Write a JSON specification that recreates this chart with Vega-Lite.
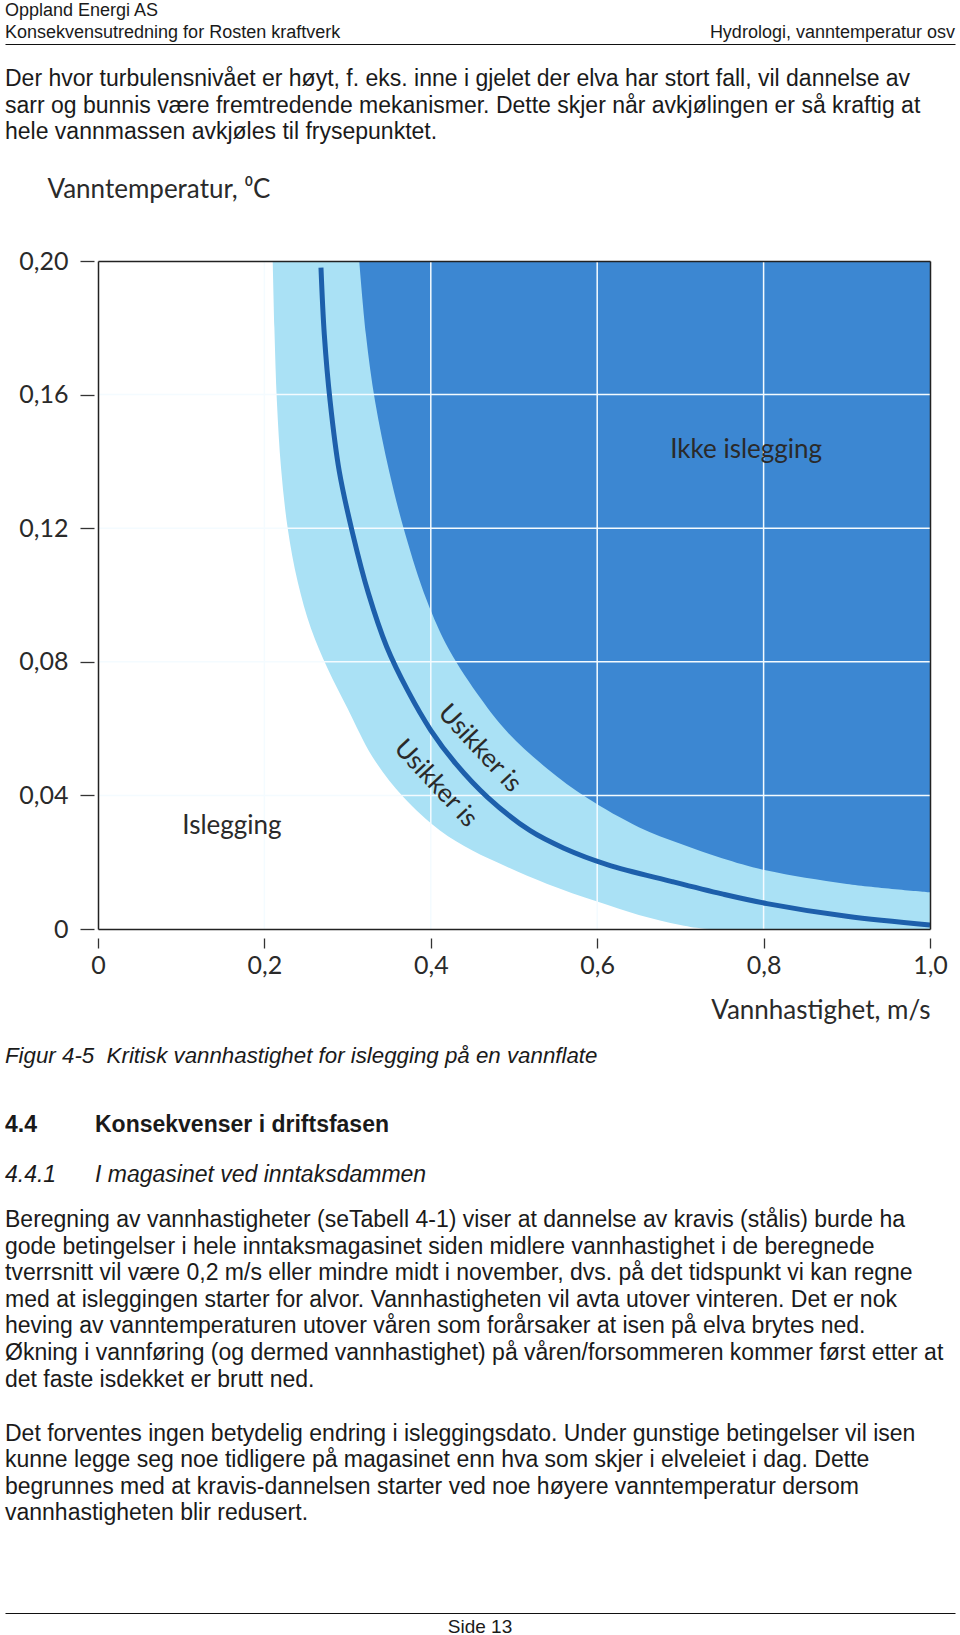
{
  "$schema": "https://vega.github.io/schema/vega-lite/v6.json",
  "padding": {"left": 5, "right": 5, "top": 0, "bottom": 0},
  "bounds": "flush",
  "spacing": 0,
  "config": {
    "view": {"stroke": null},
    "text": {"font": "Liberation Sans", "color": "#1a1a1a"}
  },
  "datasets": {
    "header": [
      {"side": "left", "line": 1, "text": "Oppland Energi AS"},
      {"side": "left", "line": 2, "text": "Konsekvensutredning for Rosten kraftverk"},
      {"side": "right", "line": 2, "text": "Hydrologi, vanntemperatur osv"}
    ],
    "para1": [
      {"col": "margin", "line": 1, "text": "Der hvor turbulensnivået er høyt, f. eks. inne i gjelet der elva har stort fall, vil dannelse av"},
      {"col": "margin", "line": 2, "text": "sarr og bunnis være fremtredende mekanismer. Dette skjer når avkjølingen er så kraftig at"},
      {"col": "margin", "line": 3, "text": "hele vannmassen avkjøles til frysepunktet."}
    ],
    "lower": [
      {"block": "caption", "col": "margin", "line": 1, "text": "Figur 4-5\u00a0 Kritisk vannhastighet for islegging på en vannflate"},
      {"block": "heading", "col": "margin", "line": 1, "text": "4.4"},
      {"block": "heading", "col": "tab", "line": 1, "text": "Konsekvenser i driftsfasen"},
      {"block": "subheading", "col": "margin", "line": 1, "text": "4.4.1"},
      {"block": "subheading", "col": "tab", "line": 1, "text": "I magasinet ved inntaksdammen"},
      {"block": "para2", "col": "margin", "line": 1, "text": "Beregning av vannhastigheter (seTabell 4-1) viser at dannelse av kravis (stålis) burde ha"},
      {"block": "para2", "col": "margin", "line": 2, "text": "gode betingelser i hele inntaksmagasinet siden midlere vannhastighet i de beregnede"},
      {"block": "para2", "col": "margin", "line": 3, "text": "tverrsnitt vil være 0,2 m/s eller mindre midt i november, dvs. på det tidspunkt vi kan regne"},
      {"block": "para2", "col": "margin", "line": 4, "text": "med at isleggingen starter for alvor. Vannhastigheten vil avta utover vinteren. Det er nok"},
      {"block": "para2", "col": "margin", "line": 5, "text": "heving av vanntemperaturen utover våren som forårsaker at isen på elva brytes ned."},
      {"block": "para2", "col": "margin", "line": 6, "text": "Økning i vannføring (og dermed vannhastighet) på våren/forsommeren kommer først etter at"},
      {"block": "para2", "col": "margin", "line": 7, "text": "det faste isdekket er brutt ned."},
      {"block": "para3", "col": "margin", "line": 1, "text": "Det forventes ingen betydelig endring i isleggingsdato. Under gunstige betingelser vil isen"},
      {"block": "para3", "col": "margin", "line": 2, "text": "kunne legge seg noe tidligere på magasinet enn hva som skjer i elveleiet i dag. Dette"},
      {"block": "para3", "col": "margin", "line": 3, "text": "begrunnes med at kravis-dannelsen starter ved noe høyere vanntemperatur dersom"},
      {"block": "para3", "col": "margin", "line": 4, "text": "vannhastigheten blir redusert."}
    ],
    "footer": [
      {"pos": "center", "line": 1, "text": "Side 13"}
    ],
    "light": [
      {"v": 0.210, "t": 0.200}, {"v": 0.212, "t": 0.180}, {"v": 0.215, "t": 0.158},
      {"v": 0.220, "t": 0.138}, {"v": 0.228, "t": 0.120}, {"v": 0.240, "t": 0.104},
      {"v": 0.256, "t": 0.090}, {"v": 0.276, "t": 0.078}, {"v": 0.300, "t": 0.066},
      {"v": 0.330, "t": 0.0515}, {"v": 0.367, "t": 0.0395}, {"v": 0.411, "t": 0.0295},
      {"v": 0.45, "t": 0.0235}, {"v": 0.49, "t": 0.0188}, {"v": 0.54, "t": 0.0135},
      {"v": 0.60, "t": 0.0082}, {"v": 0.65, "t": 0.0042}, {"v": 0.70, "t": 0.0012},
      {"v": 0.735, "t": 0}, {"v": 1.0, "t": 0}
    ],
    "dark": [
      {"v": 0.314, "t": 0.200}, {"v": 0.322, "t": 0.178}, {"v": 0.333, "t": 0.158},
      {"v": 0.350, "t": 0.137}, {"v": 0.369, "t": 0.1185}, {"v": 0.395, "t": 0.0985},
      {"v": 0.422, "t": 0.0836}, {"v": 0.46, "t": 0.069}, {"v": 0.492, "t": 0.059},
      {"v": 0.54, "t": 0.048}, {"v": 0.588, "t": 0.0392}, {"v": 0.65, "t": 0.0305},
      {"v": 0.70, "t": 0.0255}, {"v": 0.75, "t": 0.0212}, {"v": 0.804, "t": 0.0175},
      {"v": 0.90, "t": 0.0135}, {"v": 1.0, "t": 0.011}
    ],
    "critical": [
      {"v": 0.268, "t": 0.198}, {"v": 0.272, "t": 0.178}, {"v": 0.279, "t": 0.158},
      {"v": 0.290, "t": 0.137}, {"v": 0.306, "t": 0.1185}, {"v": 0.325, "t": 0.1005},
      {"v": 0.347, "t": 0.0845}, {"v": 0.372, "t": 0.0715}, {"v": 0.40, "t": 0.0595},
      {"v": 0.43, "t": 0.0495}, {"v": 0.468, "t": 0.0395}, {"v": 0.519, "t": 0.0295},
      {"v": 0.56, "t": 0.0242}, {"v": 0.612, "t": 0.0193}, {"v": 0.69, "t": 0.0142},
      {"v": 0.75, "t": 0.0105}, {"v": 0.804, "t": 0.0076}, {"v": 0.90, "t": 0.0038},
      {"v": 1.0, "t": 0.0012}
    ],
    "gridV": [{"v": 0.2}, {"v": 0.4}, {"v": 0.6}, {"v": 0.8}],
    "gridH": [{"t": 0.04}, {"t": 0.08}, {"t": 0.12}, {"t": 0.16}],
    "labels": [
      {"kind": "flat", "label": "Ikke islegging", "v": 0.779, "t": 0.1434},
      {"kind": "flat", "label": "Islegging", "v": 0.161, "t": 0.0308},
      {"kind": "slope", "label": "Usikker is", "v": 0.459, "t": 0.0541},
      {"kind": "slope", "label": "Usikker is", "v": 0.406, "t": 0.0436}
    ]
  },
  "vconcat": [
    {
      "width": 950,
      "height": 44,
      "data": {"name": "header"},
      "encoding": {
        "x": {
          "field": "side", "type": "nominal",
          "scale": {"type": "point", "domain": ["left", "right"], "padding": 0},
          "axis": {"orient": "bottom", "domain": true, "domainColor": "#111111", "domainWidth": 1.2, "ticks": false, "labels": false, "title": null, "grid": false}
        },
        "y": {"field": "line", "type": "ordinal", "scale": {"paddingInner": 0, "paddingOuter": 0}, "axis": null},
        "text": {"field": "text"}
      },
      "layer": [
        {"transform": [{"filter": "datum.side === 'left'"}], "mark": {"type": "text", "align": "left", "baseline": "middle", "fontSize": 18}},
        {"transform": [{"filter": "datum.side === 'right'"}], "mark": {"type": "text", "align": "right", "baseline": "middle", "fontSize": 18}}
      ]
    },
    {
      "width": 950,
      "height": 217,
      "data": {"name": "para1"},
      "mark": {"type": "text", "align": "left", "baseline": "alphabetic", "fontSize": 23},
      "encoding": {
        "x": {"field": "col", "type": "nominal", "scale": {"type": "point", "domain": ["margin", "tab"], "range": [0, 90], "padding": 0}, "axis": null},
        "y": {"field": "line", "type": "quantitative", "scale": {"domain": [0, 3], "range": [15.5, 95]}, "axis": null},
        "text": {"field": "text"}
      }
    },
    {
      "width": 925,
      "height": 668,
      "resolve": {"axis": {"x": "independent", "y": "independent"}},
      "layer": [
        {
          "data": {"name": "light"},
          "mark": {"type": "area", "interpolate": "catmull-rom", "color": "#aae1f5", "clip": true},
          "encoding": {
            "x": {
              "field": "v", "type": "quantitative",
              "scale": {"domain": [0, 1], "range": [93, 925], "nice": false, "zero": false},
              "axis": {
                "orient": "bottom", "values": [0, 0.2, 0.4, 0.6, 0.8, 1], "offset": 9,
                "domain": false, "grid": false, "tickSize": 10, "tickColor": "#333333", "tickWidth": 1.3,
                "labelFont": "Lato", "labelFontSize": 25, "labelColor": "#2a2a2a", "labelPadding": 5,
                "labelFlush": false, "labelOverlap": false,
                "labelExpr": "datum.value == 0 ? '0' : replace(format(datum.value, '.1f'), '.', ',')",
                "title": "Vannhastighet, m/s", "titleFont": "Lato", "titleFontSize": 26, "titleFontWeight": "normal",
                "titleColor": "#2a2a2a", "titleAlign": "right", "titleBaseline": "alphabetic", "titleAngle": 0,
                "titleX": 925, "titleY": 80
              }
            },
            "y": {
              "field": "t", "type": "quantitative",
              "scale": {"domain": [0, 0.2], "nice": false, "zero": false},
              "axis": {
                "orient": "left", "values": [0, 0.04, 0.08, 0.12, 0.16, 0.2], "offset": -89,
                "domain": false, "grid": false, "tickSize": 14, "tickColor": "#333333", "tickWidth": 1.3,
                "labelFont": "Lato", "labelFontSize": 25, "labelColor": "#2a2a2a", "labelPadding": 12,
                "labelFlush": false, "labelOverlap": false,
                "labelExpr": "datum.value == 0 ? '0' : replace(format(datum.value, '.2f'), '.', ',')",
                "title": "Vanntemperatur, ⁰C", "titleFont": "Lato", "titleFontSize": 26, "titleFontWeight": "normal",
                "titleColor": "#2a2a2a", "titleAngle": 0, "titleAlign": "left", "titleBaseline": "alphabetic",
                "titleX": -47, "titleY": -64
              }
            },
            "y2": {"datum": 0.2}
          }
        },
        {
          "data": {"name": "dark"},
          "mark": {"type": "area", "interpolate": "catmull-rom", "color": "#3c87d2", "clip": true},
          "encoding": {
            "x": {"field": "v", "type": "quantitative",
              "axis": {"orient": "bottom", "domain": true, "domainColor": "#222222", "domainWidth": 1.5, "ticks": false, "labels": false, "title": null, "grid": false, "zindex": 1}},
            "y": {"field": "t", "type": "quantitative",
              "axis": {"orient": "left", "offset": -93, "domain": true, "domainColor": "#222222", "domainWidth": 1.5, "ticks": false, "labels": false, "title": null, "grid": false, "zindex": 1}},
            "y2": {"datum": 0.2}
          }
        },
        {
          "data": {"name": "gridV"},
          "mark": {"type": "rule", "color": "#f4fbff", "strokeWidth": 1.5},
          "encoding": {"x": {"field": "v", "type": "quantitative", "axis": null}}
        },
        {
          "data": {"name": "gridH"},
          "mark": {"type": "rule", "color": "#f4fbff", "strokeWidth": 1.5},
          "encoding": {
            "y": {"field": "t", "type": "quantitative", "axis": null},
            "x": {"datum": 0, "type": "quantitative", "axis": null},
            "x2": {"datum": 1}
          }
        },
        {
          "data": {"name": "critical"},
          "mark": {"type": "line", "interpolate": "catmull-rom", "color": "#1d5fab", "strokeWidth": 5, "clip": true},
          "encoding": {
            "x": {"field": "v", "type": "quantitative",
              "axis": {"orient": "top", "domain": true, "domainColor": "#222222", "domainWidth": 1.5, "ticks": false, "labels": false, "title": null, "grid": false, "zindex": 1}},
            "y": {"field": "t", "type": "quantitative",
              "axis": {"orient": "right", "domain": true, "domainColor": "#222222", "domainWidth": 1.5, "ticks": false, "labels": false, "title": null, "grid": false, "zindex": 1}}
          }
        },
        {
          "data": {"name": "labels"},
          "transform": [{"filter": "datum.kind === 'flat'"}],
          "mark": {"type": "text", "font": "Lato", "fontSize": 26, "color": "#2a2a2a", "align": "center", "baseline": "middle"},
          "encoding": {
            "x": {"field": "v", "type": "quantitative", "axis": null},
            "y": {"field": "t", "type": "quantitative", "axis": null},
            "text": {"field": "label"}
          }
        },
        {
          "data": {"name": "labels"},
          "transform": [{"filter": "datum.kind === 'slope'"}],
          "mark": {"type": "text", "font": "Lato", "fontSize": 26, "color": "#2a2a2a", "align": "center", "baseline": "middle", "angle": 47},
          "encoding": {
            "x": {"field": "v", "type": "quantitative", "axis": null},
            "y": {"field": "t", "type": "quantitative", "axis": null},
            "text": {"field": "label"}
          }
        }
      ]
    },
    {
      "width": 950,
      "height": 684,
      "data": {"name": "lower"},
      "resolve": {"scale": {"y": "independent"}},
      "encoding": {
        "x": {"field": "col", "type": "nominal", "scale": {"type": "point", "domain": ["margin", "tab"], "range": [0, 90], "padding": 0}, "axis": null},
        "text": {"field": "text"}
      },
      "layer": [
        {
          "transform": [{"filter": "datum.block === 'caption'"}],
          "mark": {"type": "text", "align": "left", "baseline": "alphabetic", "fontSize": 22.3, "fontStyle": "italic"},
          "encoding": {"y": {"field": "line", "type": "quantitative", "scale": {"domain": [0, 1], "range": [113, 134]}, "axis": null}}
        },
        {
          "transform": [{"filter": "datum.block === 'heading'"}],
          "mark": {"type": "text", "align": "left", "baseline": "alphabetic", "fontSize": 23, "fontWeight": "bold"},
          "encoding": {"y": {"field": "line", "type": "quantitative", "scale": {"domain": [0, 1], "range": [180, 203]}, "axis": null}}
        },
        {
          "transform": [{"filter": "datum.block === 'subheading'"}],
          "mark": {"type": "text", "align": "left", "baseline": "alphabetic", "fontSize": 23, "fontStyle": "italic"},
          "encoding": {"y": {"field": "line", "type": "quantitative", "scale": {"domain": [0, 1], "range": [230, 253]}, "axis": null}}
        },
        {
          "transform": [{"filter": "datum.block === 'para2'"}],
          "mark": {"type": "text", "align": "left", "baseline": "alphabetic", "fontSize": 23},
          "encoding": {"y": {"field": "line", "type": "quantitative", "scale": {"domain": [0, 7], "range": [271.4, 457.6]}, "axis": null}}
        },
        {
          "transform": [{"filter": "datum.block === 'para3'"}],
          "mark": {"type": "text", "align": "left", "baseline": "alphabetic", "fontSize": 23},
          "encoding": {"y": {"field": "line", "type": "quantitative", "scale": {"domain": [0, 4], "range": [485.7, 590.9]}, "axis": null}}
        }
      ]
    },
    {
      "width": 950,
      "height": 22,
      "data": {"name": "footer"},
      "mark": {"type": "text", "align": "center", "baseline": "alphabetic", "fontSize": 19},
      "encoding": {
        "x": {
          "field": "pos", "type": "nominal",
          "scale": {"type": "point", "domain": ["start", "center", "end"], "padding": 0},
          "axis": {"orient": "top", "domain": true, "domainColor": "#111111", "domainWidth": 1.2, "ticks": false, "labels": false, "title": null, "grid": false}
        },
        "y": {"field": "line", "type": "quantitative", "scale": {"domain": [0, 1], "range": [1, 20]}, "axis": null},
        "text": {"field": "text"}
      }
    }
  ]
}
